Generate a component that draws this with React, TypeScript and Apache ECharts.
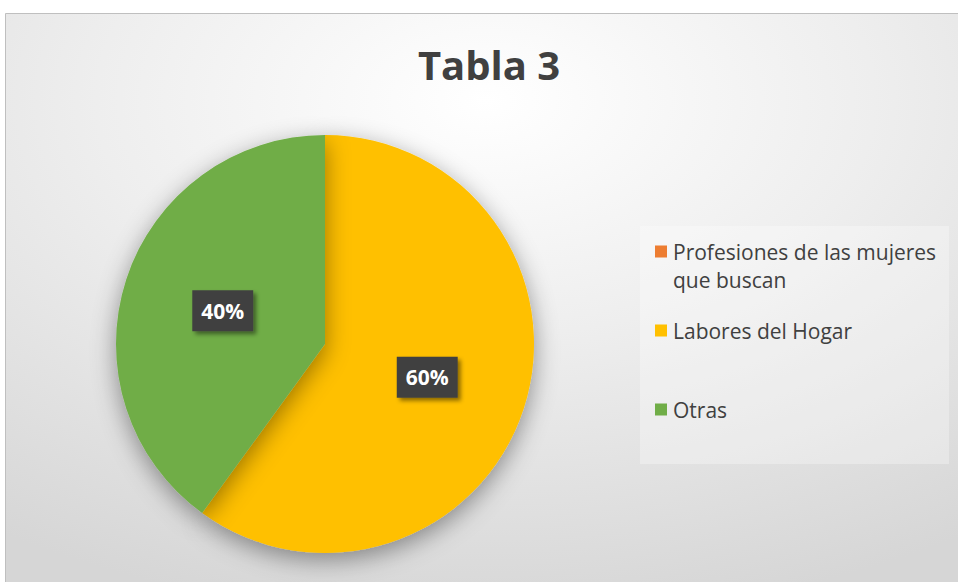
import React, { useEffect, useRef } from "react";
import * as echarts from "echarts";

const categories = ["Profesiones de las mujeres que buscan", "Labores del Hogar", "Otras"];
const values = [0, 60, 40];
const colors = ["#ED7D31", "#FFC000", "#70AD47"];
const titleText = "Tabla 3";

export default function App() {
  const ref = useRef<HTMLDivElement>(null);
  useEffect(() => {
    if (!ref.current) return;
    const chart = echarts.init(ref.current, null, { renderer: "svg" });
    const font = "'Open Sans', Lato, sans-serif";
    const legendTops = [241, 320, 399];
    chart.setOption({
      animation: false,
      color: colors,
      title: {
        text: titleText,
        left: 489,
        textAlign: "center",
        top: 44,
        padding: 0,
        textStyle: { fontFamily: font, fontSize: 40, fontWeight: "bold", color: "#404040" },
      },
      graphic: [
        {
          type: "rect",
          z: -10,
          shape: { x: 5.5, y: 13.5, width: 960, height: 580 },
          style: {
            fill: {
              type: "radial",
              x: 0.5,
              y: 0.15,
              r: 0.9,
              colorStops: [
                { offset: 0, color: "#ffffff" },
                { offset: 0.45, color: "#eeeeee" },
                { offset: 1, color: "#d6d6d6" },
              ],
            },
            stroke: "#bfbfbf",
            lineWidth: 1,
          },
        },
        {
          type: "rect",
          z: -9,
          shape: { x: 640, y: 226, width: 309, height: 238 },
          style: { fill: "rgba(255,255,255,0.3)" },
        },
        {
          type: "text",
          left: 673,
          top: 269,
          style: { text: "que buscan", fontFamily: font, fontSize: 21, fill: "#404040" },
        },
      ],
      legend: categories.map((c, i) => ({
        data: [c],
        left: 655,
        top: legendTops[i],
        padding: 0,
        itemWidth: 12,
        itemHeight: 12,
        itemGap: 0,
        icon: "rect",
        selectedMode: false,
        formatter: (n: string) => (i === 0 ? "Profesiones de las mujeres" : n),
        textStyle: { fontFamily: font, fontSize: 21, color: "#404040", padding: [0, 0, 0, 1] },
      })),
      series: [
        {
          type: "pie",
          center: [325, 344],
          radius: 209,
          startAngle: 90,
          clockwise: true,
          label: {
            show: true,
            position: "inside",
            formatter: "{d}%",
            fontFamily: font,
            fontSize: 21,
            fontWeight: "bold",
            color: "#ffffff",
            backgroundColor: "#404040",
            padding: [10, 9, 10, 9],
            shadowColor: "rgba(0,0,0,0.45)",
            shadowBlur: 4,
            shadowOffsetX: 3,
            shadowOffsetY: 3,
          },
          labelLine: { show: false },
          itemStyle: {
            shadowColor: "rgba(0,0,0,0.4)",
            shadowBlur: 24,
            shadowOffsetY: 7,
          },
          emphasis: { disabled: true },
          data: categories.map((c, i) => ({
            name: c,
            value: values[i],
            label: values[i] === 0 ? { show: false } : undefined,
          })),
        },
      ],
    });
    return () => chart.dispose();
  }, []);
  return (
    <div
      ref={ref}
      style={{ position: "absolute", left: 0, top: 0, width: 958, height: 582 }}
    />
  );
}
